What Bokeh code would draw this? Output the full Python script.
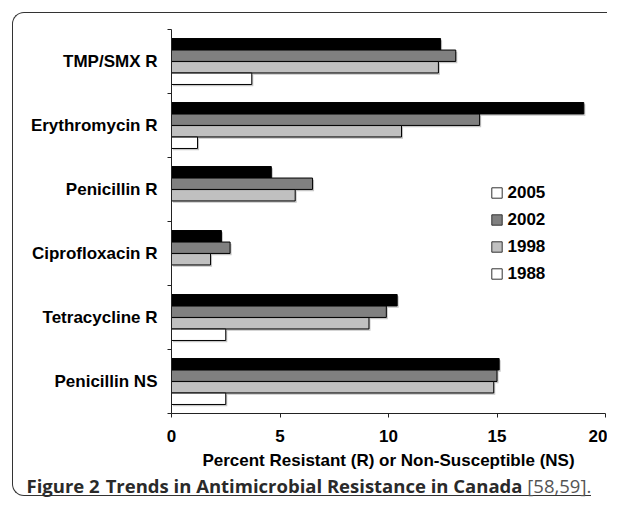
from bokeh.plotting import figure
from bokeh.models import (ColumnDataSource, FixedTicker, Legend, LegendItem, Range1d, Div)
from bokeh.layouts import column
from bokeh.transform import dodge
from bokeh.embed import file_html
from bokeh.resources import INLINE

# ---- data ----
categories = ["TMP/SMX R", "Erythromycin R", "Penicillin R", "Ciprofloxacin R", "Tetracycline R", "Penicillin NS"]
years = ["2005", "2002", "1998", "1988"]
v2005 = [12.4, 19.0, 4.6, 2.3, 10.4, 15.1]
v2002 = [13.1, 14.2, 6.5, 2.7, 9.9, 15.0]
v1998 = [12.3, 10.6, 5.7, 1.8, 9.1, 14.85]
v1988 = [3.7, 1.2, 0.0, 0.0, 2.5, 2.5]
x_ticks = [0, 5, 10, 15, 20]
bar_colors = ["#000000", "#808080", "#c0c0c0", "#ffffff"]
legend_colors = ["#ffffff", "#808080", "#c0c0c0", "#ffffff"]
x_label = "Percent Resistant (R) or Non-Susceptible (NS)"
caption_bold = "Figure 2"
caption_main = "Trends in Antimicrobial Resistance in Canada"
caption_ref = "[58,59]."

n = len(categories)
ypos = [n - 1 - i + 0.5 for i in range(n)]

OFF = 13.5          # outer padding (12) + border (1.5)
WF, HF = 594, 463   # figure size
FL, FR, FT = 158, 2, 16
FB = HF - 400       # frame bottom near page y=413

p = figure(width=WF, height=HF, output_backend="svg", toolbar_location=None,
           x_range=Range1d(0, 20), y_range=Range1d(0, n),
           min_border_left=FL, min_border_right=FR, min_border_top=FT, min_border_bottom=FB)
p.outline_line_color = None
p.background_fill_color = None
p.border_fill_color = None
p.xgrid.visible = False
p.ygrid.visible = False

series = [v2005, v2002, v1998, v1988]
offsets = [0.27, 0.09, -0.09, -0.27]
bh = 0.178
for vals, col, off in zip(series, bar_colors, offsets):
    src = ColumnDataSource(dict(y=[y for y, v in zip(ypos, vals) if v > 0],
                                v=[v for v in vals if v > 0]))
    p.hbar(y=dodge("y", off - 0.028, range=p.y_range), left=0.07, right=dodge("v", 0.07),
           height=bh, fill_color="#b8b8b8", line_color=None, fill_alpha=0.8, source=src)
    p.hbar(y=dodge("y", off, range=p.y_range), left=0, right="v", height=bh,
           fill_color=col, line_color="#000000", line_width=1, source=src)

FONT = "Liberation Sans"
xa = p.xaxis[0]
xa.ticker = FixedTicker(ticks=x_ticks)
xa.major_label_text_font = FONT
xa.major_label_text_font_style = "bold"
xa.major_label_text_font_size = "17px"
xa.major_label_text_color = "#000000"
xa.major_tick_in = 0
xa.major_tick_out = 4
xa.minor_tick_out = 0
xa.minor_tick_in = 0
xa.axis_line_color = "#222222"
xa.major_tick_line_color = "#222222"
xa.major_label_standoff = 12
xa.axis_label = x_label
xa.axis_label_text_font = FONT
xa.axis_label_text_font_style = "bold"
xa.axis_label_text_font_size = "17px"
xa.axis_label_text_color = "#000000"
xa.axis_label_standoff = 6

ya = p.yaxis[0]
ya.ticker = FixedTicker(ticks=ypos, minor_ticks=list(range(n + 1)))
ya.major_label_overrides = {y: c for y, c in zip(ypos, categories)}
ya.major_label_text_font = FONT
ya.major_label_text_font_style = "bold"
ya.major_label_text_font_size = "17px"
ya.major_label_text_color = "#000000"
ya.major_tick_line_color = None
ya.major_tick_in = 0
ya.major_tick_out = 4
ya.minor_tick_in = 0
ya.minor_tick_out = 4
ya.minor_tick_line_color = "#222222"
ya.axis_line_color = "#222222"
ya.major_label_standoff = 10

nan = float("nan")
items = []
for yr, col in zip(years, legend_colors):
    r = p.hbar(y=[nan], right=[nan], height=0.1, fill_color=col, line_color="#333333", line_width=1)
    items.append(LegendItem(label=yr, renderers=[r]))
frame_bottom = HF - FB
legend = Legend(items=items, location=(490 - OFF - FL, frame_bottom - (284 - OFF)),
                glyph_width=13, glyph_height=13, label_height=20, spacing=7,
                padding=0, margin=0, label_standoff=5,
                label_text_font=FONT, label_text_font_style="bold", label_text_font_size="17px",
                label_text_color="#000000", border_line_color=None, background_fill_alpha=0)
p.add_layout(legend, "center")

BORDER = "1.5px solid #333333"
fig_box = column(p, margin=0, spacing=0,
                 styles={"border-left": BORDER, "border-top": BORDER,
                         "border-top-left-radius": "12px"})

caption = Div(
    text=(f'<div style="border-left:{BORDER};border-bottom:{BORDER};'
          f'border-bottom-left-radius:12px;height:20px;line-height:20px;'
          f'padding-left:13.5px;white-space:nowrap;'
          f"font-family:'Open Sans',sans-serif;font-size:18.5px;color:#2a2a2a\">"
          f'<span style="font-weight:700;margin-right:6px">{caption_bold}</span>'
          f'<span style="font-weight:700">{caption_main}</span> '
          f'<span style="color:#555555;font-weight:400">{caption_ref}</span></div>'),
    width=WF + 2, height=22, margin=0)

inner = column(fig_box, caption, margin=0, spacing=0)
outer = column(inner, margin=0, styles={"padding-left": "12px", "padding-top": "12px"})

open("out.html", "w").write(file_html(outer, INLINE))
